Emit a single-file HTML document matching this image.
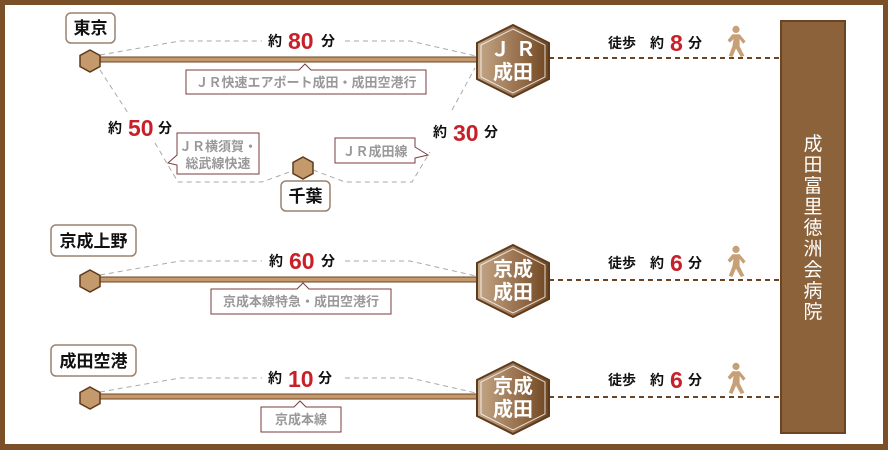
<!DOCTYPE html>
<html><head><meta charset="utf-8"><style>
html,body{margin:0;padding:0;background:#fff}
svg{display:block}
text{font-family:"Liberation Sans","Noto Sans CJK JP",sans-serif}
</style></head><body>
<svg width="888" height="450" viewBox="0 0 888 450" xmlns="http://www.w3.org/2000/svg">
<defs>
<linearGradient id="g" x1="0" y1="0" x2="1" y2="0">
<stop offset="0" stop-color="#c4a888"/><stop offset="0.55" stop-color="#9a7350"/><stop offset="1" stop-color="#6e4520"/>
</linearGradient>
<g id="walker" fill="#c8a078">
<circle cx="0" cy="-13" r="3"/>
<path d="M-3,-9 L3,-9 L8,-3 L6,-1 L3,-5 L3,1 L7,9 L4,10 L0,3 L-3,10 L-6,9 L-3,1 L-2,-5 L-5,-2 L-7,-4 Z"/>
</g>
</defs>
<rect x="0" y="0" width="888" height="450" fill="#7b4f27"/>
<rect x="5" y="5" width="878" height="439" fill="#fff"/>

<rect x="781" y="21" width="64" height="412" fill="#8b623a" stroke="#6b4424" stroke-width="2"/>
<g fill="#fff" font-size="19" text-anchor="middle">
<text x="813" y="150">成</text><text x="813" y="171">田</text><text x="813" y="192">富</text><text x="813" y="213">里</text><text x="813" y="234">徳</text><text x="813" y="255">洲</text><text x="813" y="276">会</text><text x="813" y="297">病</text><text x="813" y="318">院</text>
</g>

<g fill="none" stroke="#aaa" stroke-width="1" stroke-dasharray="5,4">
<path d="M100,55 L180,41 L262,41 M345,41 L410,41 L476,56"/>
<path d="M100,70 L128,113 M155,143 L178,182 L262,182 L295,170"/>
<path d="M313,170 L345,182 L412,182 L430,152 M452,110 L475,68"/>
<path d="M100,275 L180,261 L262,261 M345,261 L410,261 L476,276"/>
<path d="M100,392 L180,378 L262,378 M345,378 L410,378 L476,393"/>
</g>

<g stroke="#6b4424" stroke-width="2" stroke-dasharray="5,4">
<line x1="549" y1="58" x2="780" y2="58"/>
<line x1="549" y1="280" x2="780" y2="280"/>
<line x1="549" y1="397" x2="780" y2="397"/>
</g>

<g fill="#c49a6c" stroke="#6b4424" stroke-width="1">
<rect x="92" y="57" width="388" height="5"/>
<rect x="92" y="277" width="388" height="5"/>
<rect x="92" y="394" width="388" height="5"/>
</g>

<g fill="#c49a6c" stroke="#5e3b1c" stroke-width="1.5">
<polygon points="90,50 100,55.5 100,66.5 90,72 80,66.5 80,55.5"/>
<polygon points="90,270 100,275.5 100,286.5 90,292 80,286.5 80,275.5"/>
<polygon points="90,387 100,392.5 100,403.5 90,409 80,403.5 80,392.5"/>
<polygon points="303,157 313,162.5 313,173.5 303,179 293,173.5 293,162.5"/>
</g>

<g fill="url(#g)" stroke="#5e3b1c" stroke-width="2">
<polygon points="513,25 549,43 549,79 513,97 477,79 477,43"/>
<polygon points="513,245 549,263 549,299 513,317 477,299 477,263"/>
<polygon points="513,362 549,380 549,416 513,434 477,416 477,380"/>
</g>
<g fill="none" stroke="#fff" stroke-width="1" opacity="0.8">
<polygon points="513,29 545,45 545,77 513,93 481,77 481,45"/>
<polygon points="513,249 545,265 545,297 513,313 481,297 481,265"/>
<polygon points="513,366 545,382 545,414 513,430 481,414 481,382"/>
</g>
<g fill="#fff" font-size="20" font-weight="bold" text-anchor="middle">
<text x="513" y="56">Ｊ Ｒ</text><text x="513" y="79">成田</text>
<text x="513" y="276">京成</text><text x="513" y="299">成田</text>
<text x="513" y="393">京成</text><text x="513" y="416">成田</text>
</g>

<g fill="#fff" stroke="#9a8270" stroke-width="1.5">
<rect x="66" y="13" width="49" height="30" rx="5"/>
<rect x="281" y="181" width="49" height="30" rx="5"/>
<rect x="51" y="225" width="85" height="31" rx="5"/>
<rect x="51" y="345" width="85" height="31" rx="5"/>
</g>
<g fill="#111" font-size="17" font-weight="bold" text-anchor="middle">
<text x="90.5" y="34">東京</text>
<text x="305.5" y="202">千葉</text>
<text x="93.5" y="247">京成上野</text>
<text x="93.5" y="367">成田空港</text>
</g>

<g fill="#fff" stroke="#7a3e3e" stroke-width="1">
<path d="M186,70 L299,70 L305,64 L311,70 L426,70 L426,94 L186,94 Z"/>
<path d="M177,133 L259,133 L259,174 L177,174 L177,165 L168,163 L177,155 Z"/>
<path d="M335,138 L415,138 L415,147 L428,155 L415,158 L415,163 L335,163 Z"/>
<path d="M211,289 L297,289 L303,283 L309,289 L391,289 L391,314 L211,314 Z"/>
<path d="M261,407 L294,407 L300,401 L306,407 L341,407 L341,432 L261,432 Z"/>
</g>
<g fill="#999" font-size="13" font-weight="bold" text-anchor="middle">
<text x="306" y="87">ＪＲ快速エアポート成田・成田空港行</text>
<text x="218" y="151">ＪＲ横須賀・</text>
<text x="218" y="168">総武線快速</text>
<text x="375" y="156">ＪＲ成田線</text>
<text x="301" y="306">京成本線特急・成田空港行</text>
<text x="301" y="424">京成本線</text>
</g>

<g font-size="14" font-weight="bold" fill="#111">
<text x="268" y="46">約</text><text x="321" y="46">分</text>
<text x="108" y="133">約</text><text x="158" y="133">分</text>
<text x="433" y="137">約</text><text x="484" y="137">分</text>
<text x="269" y="266">約</text><text x="321" y="266">分</text>
<text x="268" y="383">約</text><text x="318" y="383">分</text>
<text x="608" y="48">徒歩</text><text x="650" y="48">約</text><text x="688" y="48">分</text>
<text x="608" y="268">徒歩</text><text x="650" y="268">約</text><text x="688" y="268">分</text>
<text x="608" y="385">徒歩</text><text x="650" y="385">約</text><text x="688" y="385">分</text>
</g>
<g font-size="23" font-weight="bold" fill="#c8202a">
<text x="288" y="49">80</text>
<text x="128" y="136">50</text>
<text x="453" y="141">30</text>
<text x="289" y="269">60</text>
<text x="288" y="387">10</text>
<text x="670" y="51">8</text>
<text x="670" y="271">6</text>
<text x="670" y="388">6</text>
</g>

<g transform="translate(736,45) scale(1.2)"><use href="#walker"/></g>
<g transform="translate(736,265) scale(1.2)"><use href="#walker"/></g>
<g transform="translate(736,382) scale(1.2)"><use href="#walker"/></g>
</svg>
</body></html>
